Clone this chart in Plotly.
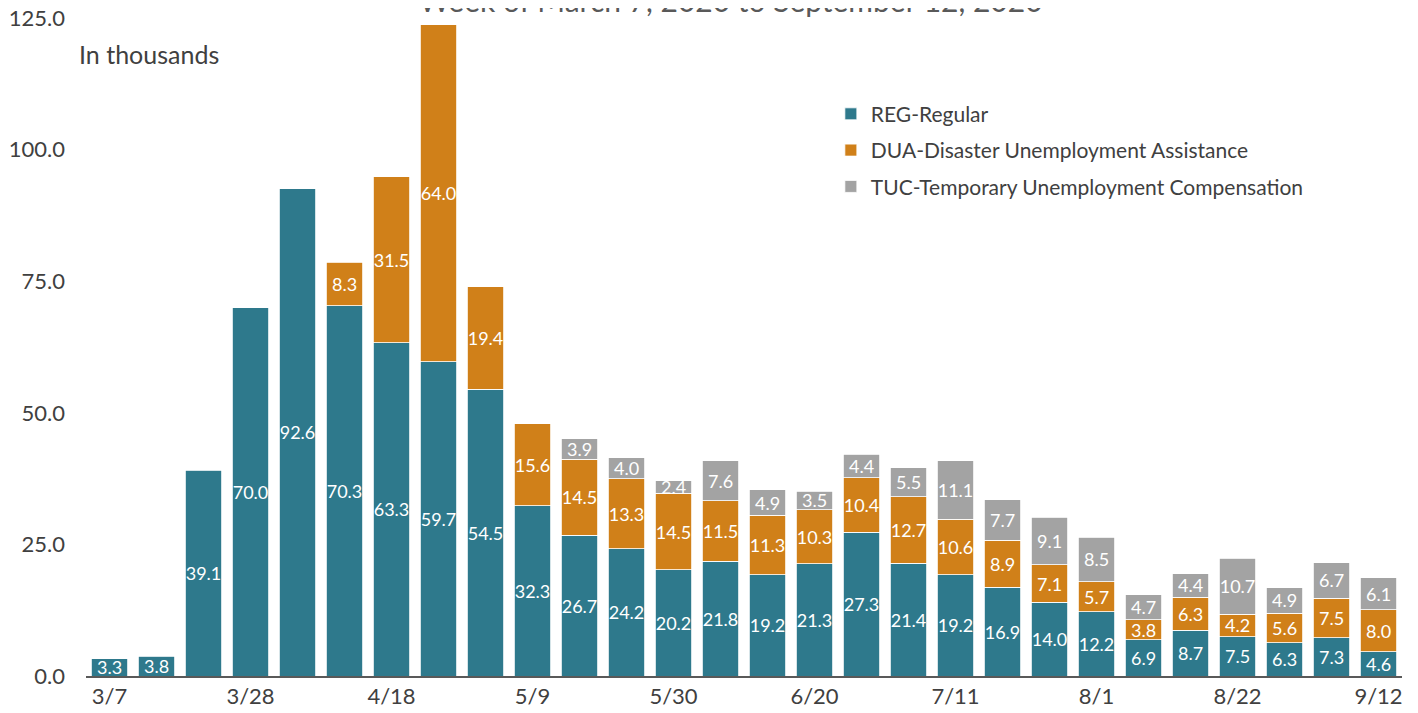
'''
    Weekly initial claims by program, stacked bar chart.
'''
import plotly.graph_objects as go

# Week ending dates (2020)
weeks = ["3/7", "3/14", "3/21", "3/28", "4/4", "4/11", "4/18", "4/25", "5/2",
         "5/9", "5/16", "5/23", "5/30", "6/6", "6/13", "6/20", "6/27", "7/4",
         "7/11", "7/18", "7/25", "8/1", "8/8", "8/15", "8/22", "8/29", "9/5",
         "9/12"]

# Values in thousands (None where the program had no claims)
reg = [3.3, 3.8, 39.1, 70.0, 92.6, 70.3, 63.3, 59.7, 54.5, 32.3, 26.7, 24.2,
       20.2, 21.8, 19.2, 21.3, 27.3, 21.4, 19.2, 16.9, 14.0, 12.2, 6.9, 8.7,
       7.5, 6.3, 7.3, 4.6]
dua = [None, None, None, None, None, 8.3, 31.5, 64.0, 19.4, 15.6, 14.5, 13.3,
       14.5, 11.5, 11.3, 10.3, 10.4, 12.7, 10.6, 8.9, 7.1, 5.7, 3.8, 6.3, 4.2,
       5.6, 7.5, 8.0]
tuc = [None, None, None, None, None, None, None, None, None, None, 3.9, 4.0,
       2.4, 7.6, 4.9, 3.5, 4.4, 5.5, 11.1, 7.7, 9.1, 8.5, 4.7, 4.4, 10.7, 4.9,
       6.7, 6.1]

# Only every third week is labelled on the x-axis
tick_weeks = ["3/7", "3/28", "4/18", "5/9", "5/30", "6/20", "7/11", "8/1",
              "8/22", "9/12"]
y_ticks = [0, 25, 50, 75, 100, 125]

FONT = "Lato"
TEXT_COLOR = "#404040"

series = [
    ("REG-Regular", reg, "#2E798C"),
    ("DUA-Disaster Unemployment Assistance", dua, "#D08019"),
    ("TUC-Temporary Unemployment Compensation", tuc, "#A3A3A3"),
]

fig = go.Figure()
for i, (name, values, color) in enumerate(series):
    fig.add_trace(go.Bar(
        x=weeks,
        y=values,
        name=name,
        legendgroup=str(i),
        marker=dict(color=color, line=dict(color="white", width=0.8)),
        text=[f"{v:.1f}" if v is not None else "" for v in values],
        textposition="inside",
        insidetextanchor="middle",
        textangle=0,
        textfont=dict(family=FONT, size=18, color="white"),
        hoverinfo="skip",
    ))

# Title sits partly above the top of the image
fig.add_annotation(
    text="Week of March 7, 2020 to September 12, 2020",
    xref="paper", yref="paper", x=0.49, y=1.028,
    xanchor="center", yanchor="middle", showarrow=False,
    font=dict(family=FONT, size=30, color="#595959"),
)

# Units note in the top left corner
fig.add_annotation(
    text="In thousands",
    xref="paper", yref="paper", x=-0.007, y=0.946,
    xanchor="left", yanchor="middle", showarrow=False,
    font=dict(family=FONT, size=25, color=TEXT_COLOR),
)

# The page body adds an 8px offset, so the figure is sized 8px smaller
fig.update_layout(
    barmode="stack",
    bargap=0.23,
    width=1410, height=705,
    margin=dict(l=78, r=16, t=10, b=37),
    plot_bgcolor="white",
    paper_bgcolor="white",
    font=dict(family=FONT, color=TEXT_COLOR),
    uniformtext=dict(minsize=17, mode="show"),
    legend=dict(
        x=0.566, y=0.885, xanchor="left", yanchor="top",
        font=dict(family=FONT, size=21, color=TEXT_COLOR),
        tracegroupgap=6,
        traceorder="grouped",
        bgcolor="rgba(0,0,0,0)",
    ),
    xaxis=dict(
        tickmode="array", tickvals=tick_weeks, ticktext=tick_weeks,
        showline=True, linecolor="#595959", linewidth=1.5,
        showgrid=False, ticks="", automargin=False,
        tickfont=dict(family=FONT, size=22, color=TEXT_COLOR),
    ),
    yaxis=dict(
        range=[0, 125], tickvals=y_ticks, tickformat=".1f",
        showgrid=False, zeroline=False, showline=False, ticks="",
        ticklabelstandoff=20, automargin=False, ticklabeloverflow="allow",
        tickfont=dict(family=FONT, size=22, color=TEXT_COLOR),
    ),
)

fig.write_html("out.html")
